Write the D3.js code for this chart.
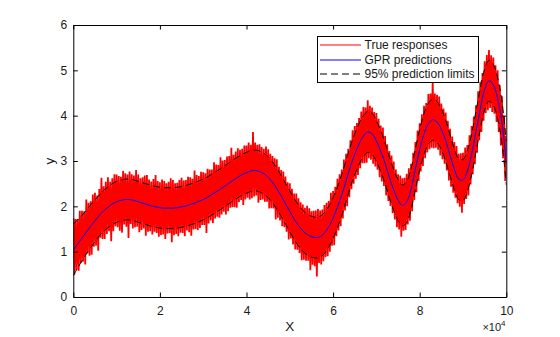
<!DOCTYPE html>
<html>
<head>
<meta charset="utf-8">
<script src="https://cdn.jsdelivr.net/npm/d3@7"></script>
<style>
  html, body { margin: 0; padding: 0; background: #fff; }
  svg { display: block; font-family: "Liberation Sans", Arial, Helvetica, sans-serif; }
</style>
</head>
<body>
<svg id="chart" width="560" height="337"></svg>
<script>
// ---- data ----
const xTicks = [0, 20000, 40000, 60000, 80000, 100000];
const xTickLabels = ["0", "2", "4", "6", "8", "10"];
const yTicks = [0, 1, 2, 3, 4, 5, 6];
const yTickLabels = ["0", "1", "2", "3", "4", "5", "6"];
const legendLabels = ["True responses", "GPR predictions", "95% prediction limits"];

// GPR predictions, every 1000 in X (0 .. 100000)
const gprPred = [
  1.04,1.17,1.30,1.43,1.56,1.68,1.80,1.90,1.98,2.05,
  2.10,2.13,2.15,2.15,2.13,2.10,2.07,2.04,2.01,1.99,
  1.97,1.96,1.96,1.96,1.97,1.99,2.01,2.04,2.07,2.11,
  2.15,2.20,2.26,2.32,2.38,2.45,2.51,2.58,2.64,2.70,
  2.74,2.78,2.79,2.77,2.72,2.64,2.53,2.39,2.23,2.06,
  1.89,1.72,1.58,1.46,1.38,1.33,1.31,1.33,1.41,1.55,
  1.74,1.98,2.25,2.56,2.88,3.15,3.38,3.55,3.64,3.60,
  3.44,3.22,2.95,2.64,2.36,2.14,2.02,2.10,2.38,2.82,
  3.25,3.60,3.82,3.91,3.86,3.70,3.45,3.13,2.82,2.60,
  2.58,2.78,3.15,3.65,4.15,4.58,4.77,4.68,4.38,3.85,
  2.95
];
// 95% prediction limits, same X grid
const upperLimit = [
  1.61,1.70,1.80,1.91,2.03,2.14,2.25,2.35,2.43,2.50,
  2.55,2.58,2.60,2.60,2.58,2.55,2.52,2.49,2.46,2.44,
  2.42,2.41,2.41,2.41,2.42,2.44,2.46,2.49,2.52,2.56,
  2.60,2.65,2.71,2.77,2.83,2.90,2.96,3.03,3.09,3.15,
  3.19,3.23,3.24,3.22,3.17,3.09,2.98,2.84,2.68,2.51,
  2.34,2.17,2.03,1.91,1.83,1.78,1.76,1.78,1.86,2.00,
  2.19,2.43,2.70,3.01,3.33,3.60,3.83,4.00,4.09,4.05,
  3.89,3.67,3.40,3.09,2.81,2.59,2.47,2.55,2.83,3.27,
  3.70,4.05,4.27,4.36,4.31,4.15,3.90,3.58,3.27,3.05,
  3.03,3.23,3.60,4.10,4.60,5.03,5.22,5.13,4.83,4.31,
  3.43
];
const lowerLimit = [
  0.47,0.64,0.80,0.95,1.09,1.22,1.35,1.45,1.53,1.60,
  1.65,1.68,1.70,1.70,1.68,1.65,1.62,1.59,1.56,1.54,
  1.52,1.51,1.51,1.51,1.52,1.54,1.56,1.59,1.62,1.66,
  1.70,1.75,1.81,1.87,1.93,2.00,2.06,2.13,2.19,2.25,
  2.29,2.33,2.34,2.32,2.27,2.19,2.08,1.94,1.78,1.61,
  1.44,1.27,1.13,1.01,0.93,0.88,0.86,0.88,0.96,1.10,
  1.29,1.53,1.80,2.11,2.43,2.70,2.93,3.10,3.19,3.15,
  2.99,2.77,2.50,2.19,1.91,1.69,1.57,1.65,1.93,2.37,
  2.80,3.15,3.37,3.46,3.41,3.25,3.00,2.68,2.37,2.15,
  2.13,2.33,2.70,3.20,3.70,4.13,4.32,4.23,3.93,3.39,
  2.47
];
// True responses (noisy), every 250 in X (0 .. 100000)
const trueResp = [
  1.74,0.49,1.72,0.59, 1.72,0.58,1.90,0.75, 1.90,0.78,1.89,0.72, 2.15,0.96,2.08,0.91,
  2.11,0.93,2.26,1.11, 2.30,1.13,2.24,1.02, 2.38,1.31,2.63,1.28, 2.44,1.28,2.54,1.39,
  2.64,1.45,2.54,1.23, 2.62,1.45,2.71,1.56, 2.70,1.54,2.67,1.46, 2.65,1.42,2.78,1.60,
  2.73,1.55,2.70,1.30, 2.77,1.61,2.71,1.51, 2.68,1.54,2.80,1.55, 2.70,1.43,2.62,1.48,
  2.64,1.51,2.68,1.35, 2.69,1.44,2.59,1.45, 2.55,1.38,2.60,1.44, 2.69,1.41,2.56,1.33,
  2.53,1.37,2.59,1.38, 2.56,1.28,2.51,1.40, 2.54,1.41,2.62,1.21, 2.58,1.36,2.51,1.39,
  2.52,1.34,2.58,1.42, 2.63,1.41,2.57,1.34, 2.58,1.47,2.65,1.43, 2.64,1.35,2.61,1.49,
  2.79,1.50,2.69,1.48, 2.67,1.52,2.76,1.59, 2.75,1.59,2.73,1.41, 2.83,1.62,2.81,1.69,
  2.81,1.63,2.97,1.73, 2.92,1.77,2.91,1.75, 3.08,1.82,3.01,1.88, 3.02,1.82,3.10,1.89,
  3.11,1.97,3.29,1.98, 3.14,1.98,3.21,1.97, 3.28,2.09,3.25,2.14, 3.27,2.03,3.34,2.15,
  3.34,2.19,3.41,2.15, 3.36,2.18,3.64,2.22, 3.41,2.24,3.36,2.08, 3.37,2.14,3.31,2.15,
  3.27,2.10,3.32,2.10, 3.26,1.95,3.16,1.96, 3.11,1.95,3.06,1.71, 3.04,1.75,2.87,1.69,
  2.80,1.56,2.77,1.54, 2.66,1.44,2.53,1.27, 2.51,1.29,2.39,1.16, 2.28,1.05,2.28,1.04,
  2.18,0.97,2.09,0.81, 2.04,0.82,1.97,0.80, 2.01,0.80,1.96,0.59, 1.89,0.71,1.90,0.68,
  1.91,0.45,1.94,0.75, 1.91,0.72,1.93,0.79, 2.03,0.88,2.08,0.90, 2.12,1.00,2.30,1.13,
  2.34,1.14,2.43,1.34, 2.61,1.47,2.71,1.56, 2.81,1.73,3.03,1.91, 3.16,2.00,3.27,2.20,
  3.46,2.38,3.68,2.50, 3.77,2.61,3.84,2.69, 3.95,2.84,4.09,2.95, 4.19,2.95,4.18,2.96,
  4.34,3.06,4.22,3.03, 4.18,2.94,4.08,2.88, 4.06,2.81,3.93,2.64, 3.78,2.55,3.74,2.45,
  3.55,2.24,3.37,2.12, 3.22,2.01,3.12,1.85, 2.99,1.71,2.81,1.54, 2.71,1.49,2.68,1.33,
  2.62,1.46,2.63,1.48, 2.72,1.60,2.84,1.68, 2.94,1.89,3.18,2.14, 3.42,2.31,3.67,2.56,
  3.83,2.77,4.03,2.89, 4.22,3.06,4.28,3.19, 4.48,3.26,4.49,3.29, 4.81,3.28,4.49,3.29,
  4.46,3.25,4.42,3.12, 4.27,3.04,4.16,2.94, 4.07,2.79,3.89,2.57, 3.71,2.43,3.54,2.30,
  3.42,2.19,3.33,2.07, 3.16,1.99,3.17,1.86, 3.18,2.05,3.30,2.16, 3.35,2.24,3.57,2.48,
  3.77,2.71,3.98,2.93, 4.23,3.18,4.54,3.46, 4.75,3.64,4.94,3.89, 5.20,4.06,5.34,4.12,
  5.45,4.17,5.33,4.08, 5.28,4.04,5.11,3.86, 5.00,3.64,4.67,3.34, 4.43,3.06,4.00,2.56,
  3.55
];
const predX = d3.range(0, 100001, 1000);
const trueX = d3.range(0, 100001, 250);

// ---- layout ----
const svg = d3.select("#chart");
const mLeft = 73.3, mRight = 506.3, mTop = 25, mBottom = 297;
const x = d3.scaleLinear().domain([0, 100000]).range([mLeft, mRight]);
const y = d3.scaleLinear().domain([0, 6]).range([mBottom, mTop]);

svg.append("defs").append("clipPath").attr("id", "clip")
  .append("rect").attr("x", mLeft).attr("y", mTop).attr("width", mRight - mLeft).attr("height", mBottom - mTop);

const plot = svg.append("g").attr("clip-path", "url(#clip)");

const lineTrue = d3.line().x((d, i) => x(trueX[i])).y(d => y(d));
const linePred = d3.line().x((d, i) => x(predX[i])).y(d => y(d)).curve(d3.curveCatmullRom);

plot.append("path").datum(trueResp).attr("d", lineTrue)
  .attr("fill", "none").attr("stroke", "#ff0000").attr("stroke-width", 1.8)
  .attr("stroke-linejoin", "bevel");
plot.append("path").datum(gprPred).attr("d", linePred)
  .attr("fill", "none").attr("stroke", "#0000ff").attr("stroke-width", 1);
[upperLimit, lowerLimit].forEach(arr => {
  plot.append("path").datum(arr).attr("d", linePred)
    .attr("fill", "none").attr("stroke", "#000").attr("stroke-width", 1)
    .attr("stroke-dasharray", "7,4");
});

// ---- axes (MATLAB style: box, inward ticks) ----
const fmtX = (d) => xTickLabels[xTicks.indexOf(d)];
const fmtY = (d) => yTickLabels[yTicks.indexOf(d)];
const tickLen = 4.5;

const axB = svg.append("g").attr("transform", `translate(0,${mBottom})`)
  .call(d3.axisBottom(x).tickValues(xTicks).tickFormat(fmtX).tickSizeInner(-tickLen).tickSizeOuter(0).tickPadding(9));
const axT = svg.append("g").attr("transform", `translate(0,${mTop})`)
  .call(d3.axisTop(x).tickValues(xTicks).tickFormat("").tickSizeInner(-tickLen).tickSizeOuter(0));
const axL = svg.append("g").attr("transform", `translate(${mLeft},0)`)
  .call(d3.axisLeft(y).tickValues(yTicks).tickFormat(fmtY).tickSizeInner(-tickLen).tickSizeOuter(0).tickPadding(6));
const axR = svg.append("g").attr("transform", `translate(${mRight},0)`)
  .call(d3.axisRight(y).tickValues(yTicks).tickFormat("").tickSizeInner(-tickLen).tickSizeOuter(0));

[axB, axT, axL, axR].forEach(g => {
  g.select(".domain").attr("stroke", "#000").attr("stroke-width", 1);
  g.selectAll(".tick line").attr("stroke", "#000").attr("stroke-width", 1);
  g.selectAll(".tick text").attr("fill", "#1a1a1a").style("font-size", "12px")
   .style("font-family", '"Liberation Sans", Arial, Helvetica, sans-serif');
});

// axis labels
svg.append("text").attr("x", (mLeft + mRight) / 2).attr("y", 331).attr("text-anchor", "middle")
  .attr("fill", "#1a1a1a").style("font-size", "13.5px").text("X");
svg.append("text").attr("transform", `translate(54,${(mTop + mBottom) / 2}) rotate(-90)`)
  .attr("text-anchor", "middle").attr("fill", "#1a1a1a").style("font-size", "13.5px").text("y");
const mult = svg.append("text").attr("x", 505.5).attr("y", 331).attr("text-anchor", "end")
  .attr("fill", "#1a1a1a").style("font-size", "11px");
mult.append("tspan").text("\u00d710");
mult.append("tspan").attr("dy", -5).style("font-size", "8px").text("4");

// ---- legend ----
const lg = svg.append("g");
lg.append("rect").attr("x", 317.5).attr("y", 36.5).attr("width", 161).attr("height", 46)
  .attr("fill", "#fff").attr("stroke", "#000").attr("stroke-width", 1);
const lgStyles = [
  { stroke: "#ff0000", dash: null },
  { stroke: "#0000ff", dash: null },
  { stroke: "#000", dash: "7,4" }
];
const lgY = [45, 60, 74];
legendLabels.forEach((lab, i) => {
  const ln = lg.append("line").attr("x1", 320).attr("x2", 361).attr("y1", lgY[i]).attr("y2", lgY[i])
    .attr("stroke", lgStyles[i].stroke).attr("stroke-width", 1);
  if (lgStyles[i].dash) ln.attr("stroke-dasharray", lgStyles[i].dash);
  lg.append("text").attr("x", 364.5).attr("y", lgY[i]).attr("dy", "0.35em")
    .attr("fill", "#1a1a1a").style("font-size", "12px").text(lab);
});
</script>
</body>
</html>
